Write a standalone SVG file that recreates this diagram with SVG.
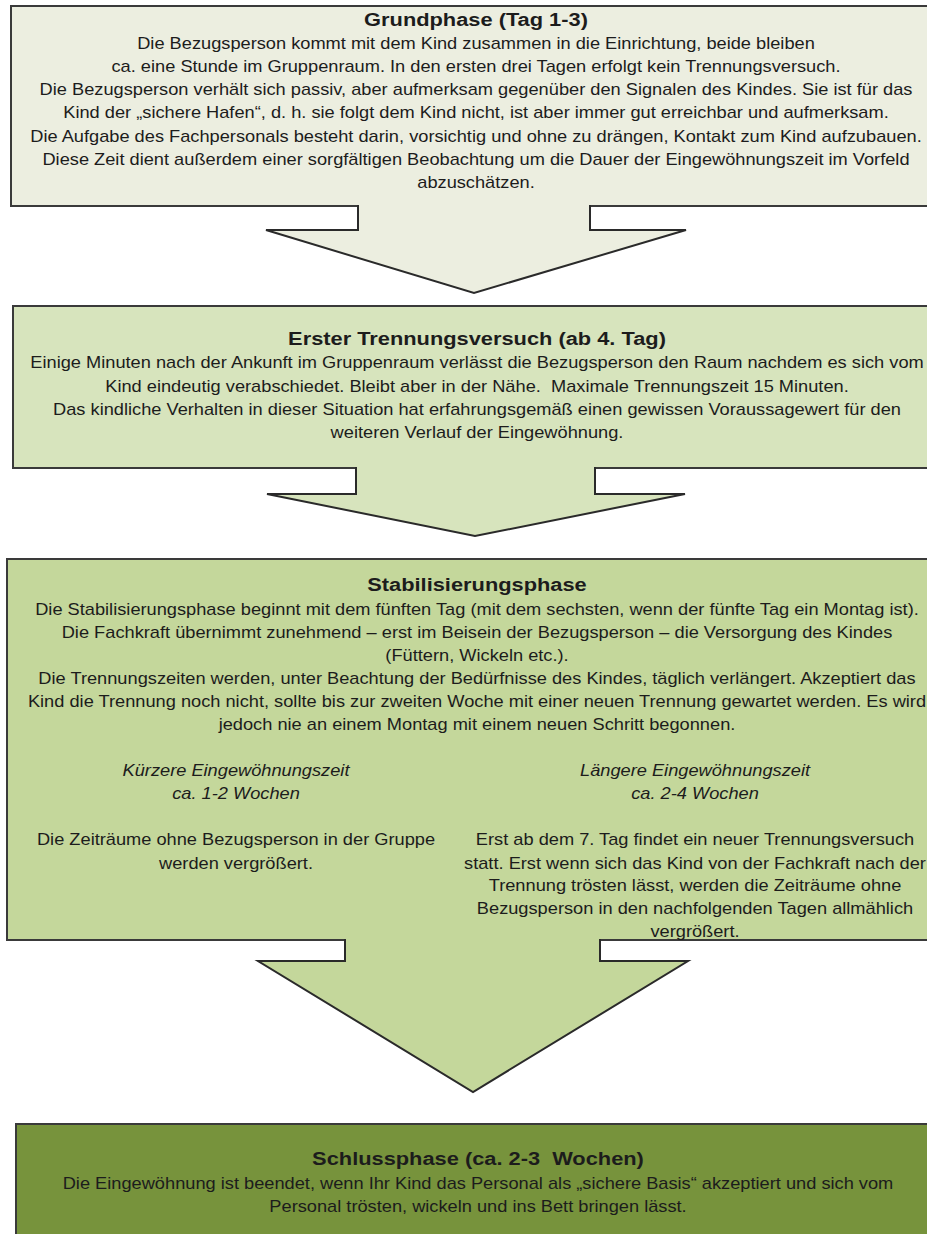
<svg xmlns="http://www.w3.org/2000/svg" width="927" height="1234" viewBox="0 0 927 1234">
<style>
.box{stroke:#3a3a3a;stroke-width:2}
.arr{stroke:#2a2a2a;stroke-width:2;stroke-linejoin:miter}
.p1{fill:#ECEEE0}
.p2{fill:#D7E4BD}
.p3{fill:#C4D79B}
.p4{fill:#77933C}
text{font-family:"Liberation Sans",Arial,sans-serif;fill:#1c1c1c;text-anchor:middle}
.t{font-size:18.5px;font-weight:bold}
.b{font-size:16px}
.i{font-size:16px;font-style:italic}
</style>
<rect width="927" height="1234" fill="#ffffff"/>

<g id="grundphase">
<rect class="box p1" x="11" y="6" width="940" height="200"/>
<g transform="translate(476,0) scale(1.18,1)"><text class="t" x="0" y="26">Grundphase (Tag 1-3)</text></g>
<g transform="translate(476,0) scale(1.14,1)">
<text class="b" x="0" y="49">Die Bezugsperson kommt mit dem Kind zusammen in die Einrichtung, beide bleiben</text>
<text class="b" x="0" y="72">ca. eine Stunde im Gruppenraum. In den ersten drei Tagen erfolgt kein Trennungsversuch.</text>
<text class="b" x="0" y="95">Die Bezugsperson verhält sich passiv, aber aufmerksam gegenüber den Signalen des Kindes. Sie ist für das</text>
<text class="b" x="0" y="118">Kind der „sichere Hafen“, d. h. sie folgt dem Kind nicht, ist aber immer gut erreichbar und aufmerksam.</text>
<text class="b" x="0" y="142">Die Aufgabe des Fachpersonals besteht darin, vorsichtig und ohne zu drängen, Kontakt zum Kind aufzubauen.</text>
<text class="b" x="0" y="165">Diese Zeit dient außerdem einer sorgfältigen Beobachtung um die Dauer der Eingewöhnungszeit im Vorfeld</text>
<text class="b" x="0" y="188">abzuschätzen.</text>
</g>
</g>

<g id="trennungsversuch">
<rect class="box p2" x="13" y="306" width="940" height="162"/>
<g transform="translate(477,0) scale(1.18,1)"><text class="t" x="0" y="345">Erster Trennungsversuch (ab 4. Tag)</text></g>
<g transform="translate(477,0) scale(1.14,1)">
<text class="b" x="0" y="368.5">Einige Minuten nach der Ankunft im Gruppenraum verlässt die Bezugsperson den Raum nachdem es sich vom</text>
<text class="b" x="0" y="392" xml:space="preserve">Kind eindeutig verabschiedet. Bleibt aber in der Nähe.  Maximale Trennungszeit 15 Minuten.</text>
<text class="b" x="0" y="415">Das kindliche Verhalten in dieser Situation hat erfahrungsgemäß einen gewissen Voraussagewert für den</text>
<text class="b" x="0" y="438.5">weiteren Verlauf der Eingewöhnung.</text>
</g>
</g>

<g id="stabilisierungsphase">
<rect class="box p3" x="7" y="559" width="945" height="381"/>
<g transform="translate(477,0) scale(1.18,1)"><text class="t" x="0" y="591">Stabilisierungsphase</text></g>
<g transform="translate(477,0) scale(1.14,1)">
<text class="b" x="0" y="615">Die Stabilisierungsphase beginnt mit dem fünften Tag (mit dem sechsten, wenn der fünfte Tag ein Montag ist).</text>
<text class="b" x="0" y="638">Die Fachkraft übernimmt zunehmend – erst im Beisein der Bezugsperson – die Versorgung des Kindes</text>
<text class="b" x="0" y="661">(Füttern, Wickeln etc.).</text>
<text class="b" x="0" y="684">Die Trennungszeiten werden, unter Beachtung der Bedürfnisse des Kindes, täglich verlängert. Akzeptiert das</text>
<text class="b" x="0" y="707">Kind die Trennung noch nicht, sollte bis zur zweiten Woche mit einer neuen Trennung gewartet werden. Es wird</text>
<text class="b" x="0" y="730">jedoch nie an einem Montag mit einem neuen Schritt begonnen.</text>
</g>
<g transform="translate(236,0) scale(1.14,1)">
<text class="i" x="0" y="776">Kürzere Eingewöhnungszeit</text>
<text class="i" x="0" y="799">ca. 1-2 Wochen</text>
<text class="b" x="0" y="845">Die Zeiträume ohne Bezugsperson in der Gruppe</text>
<text class="b" x="0" y="869">werden vergrößert.</text>
</g>
<g transform="translate(695,0) scale(1.14,1)">
<text class="i" x="0" y="776">Längere Eingewöhnungszeit</text>
<text class="i" x="0" y="799">ca. 2-4 Wochen</text>
<text class="b" x="0" y="845">Erst ab dem 7. Tag findet ein neuer Trennungsversuch</text>
<text class="b" x="0" y="869">statt. Erst wenn sich das Kind von der Fachkraft nach der</text>
<text class="b" x="0" y="891">Trennung trösten lässt, werden die Zeiträume ohne</text>
<text class="b" x="0" y="914">Bezugsperson in den nachfolgenden Tagen allmählich</text>
<text class="b" x="0" y="937">vergrößert.</text>
</g>
</g>

<g id="schlussphase">
<rect class="box p4" x="16" y="1124" width="940" height="130"/>
<g transform="translate(478,0) scale(1.18,1)"><text class="t" x="0" y="1165" xml:space="preserve">Schlussphase (ca. 2-3  Wochen)</text></g>
<g transform="translate(478,0) scale(1.14,1)">
<text class="b" x="0" y="1189">Die Eingewöhnung ist beendet, wenn Ihr Kind das Personal als „sichere Basis“ akzeptiert und sich vom</text>
<text class="b" x="0" y="1212">Personal trösten, wickeln und ins Bett bringen lässt.</text>
</g>
</g>

<g id="connectors">
<path class="arr p1" d="M358,205 V230 H266 L474,293 L686,230 H590 V205"/>
<path class="arr p2" d="M356,467 V494 H267 L475,536 L685,494 H595 V467"/>
<path class="arr p3" d="M345,939 V961 H258 L473,1092 L688,961 H600 V939"/>
</g>
</svg>
